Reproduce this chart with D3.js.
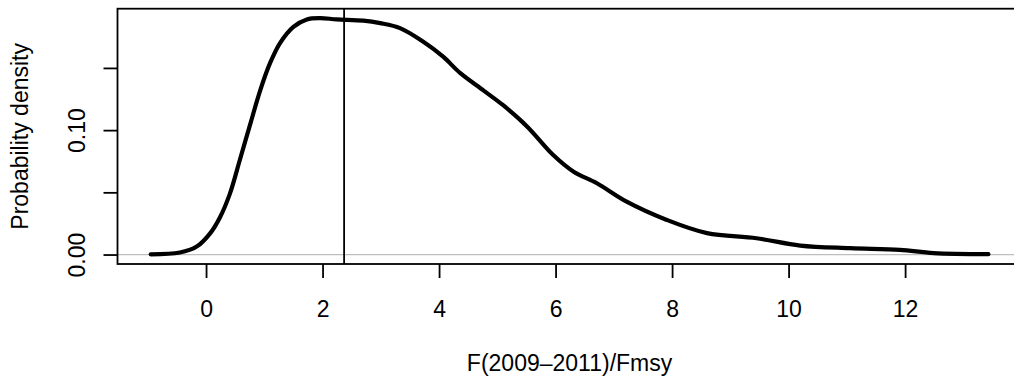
<!DOCTYPE html>
<html>
<head>
<meta charset="utf-8">
<script src="https://cdn.jsdelivr.net/npm/d3@7"></script>
<style>
  html, body { margin: 0; padding: 0; background: #ffffff; overflow: hidden; }
  svg { display: block; }
  text { font-family: "Liberation Sans", Arial, Helvetica, sans-serif; fill: #000; }
</style>
</head>
<body>
<svg id="chart" width="1014" height="378"></svg>
<script>
// ---- data ----
const densityX = [-0.95, -0.45, -0.16, 0.07, 0.24, 0.41, 0.58, 0.76, 0.93, 1.10, 1.27, 1.50, 1.73, 1.96, 2.24, 2.70, 2.99, 3.33, 3.73, 4.07, 4.36, 4.76, 5.10, 5.51, 5.96, 6.31, 6.71, 7.22, 7.91, 8.60, 9.45, 10.20, 11.06, 11.91, 12.49, 13.43];
const densityY = [0.0002, 0.0016, 0.0064, 0.017, 0.030, 0.049, 0.076, 0.105, 0.132, 0.154, 0.170, 0.183, 0.189, 0.190, 0.189, 0.188, 0.186, 0.182, 0.171, 0.159, 0.146, 0.132, 0.120, 0.103, 0.080, 0.0666, 0.0573, 0.0425, 0.0278, 0.0172, 0.0131, 0.0072, 0.0051, 0.0038, 0.0011, 0.0003];
const referenceX = 2.37;
const xTickValues = [0, 2, 4, 6, 8, 10, 12];
const xTickLabels = ["0", "2", "4", "6", "8", "10", "12"];
const yTickValues = [0, 0.05, 0.10, 0.15];
const yTickLabels = ["0.00", "", "0.10", ""];
const xTitle = "F(2009\u20132011)/Fmsy";
const yTitle = "Probability density";

(function () {
// ---- layout ----
const svg = d3.select("#chart");
const pLeft = 117.5, pRight = 1021.6, pTop = 8.7, pBottom = 264;
const fontSize = 23;

const x = d3.scaleLinear().domain([-1.52, 14.0]).range([pLeft, pRight]);
const y = d3.scaleLinear().domain([-0.0076, 0.1976]).range([pBottom, pTop]);

// clip for plot region
svg.append("defs").append("clipPath").attr("id", "plotclip")
  .append("rect").attr("x", pLeft).attr("y", pTop).attr("width", pRight - pLeft).attr("height", pBottom - pTop);

const plot = svg.append("g").attr("clip-path", "url(#plotclip)");

// zero reference line
plot.append("line")
  .attr("x1", pLeft).attr("x2", pRight)
  .attr("y1", y(0)).attr("y2", y(0))
  .attr("stroke", "#bebebe").attr("stroke-width", 1.2);

// density curve
const pts = densityX.map((d, i) => [d, densityY[i]]);
plot.append("path")
  .datum(pts)
  .attr("fill", "none")
  .attr("stroke", "#000")
  .attr("stroke-width", 4.2)
  .attr("stroke-linejoin", "round")
  .attr("stroke-linecap", "round")
  .attr("d", d3.line().x(d => x(d[0])).y(d => y(d[1])).curve(d3.curveCatmullRom.alpha(0.5)));

// vertical reference line
plot.append("line")
  .attr("x1", x(referenceX)).attr("x2", x(referenceX))
  .attr("y1", pTop).attr("y2", pBottom)
  .attr("stroke", "#000").attr("stroke-width", 1.8);

// box
svg.append("rect")
  .attr("x", pLeft).attr("y", pTop)
  .attr("width", pRight - pLeft).attr("height", pBottom - pTop)
  .attr("fill", "none").attr("stroke", "#000").attr("stroke-width", 1.8);

// x axis
const xAxis = svg.append("g")
  .attr("transform", `translate(0,${pBottom})`)
  .call(d3.axisBottom(x).tickValues(xTickValues).tickSize(14)
        .tickFormat((d, i) => xTickLabels[i]));
xAxis.select(".domain").remove();
xAxis.selectAll(".tick line").attr("stroke", "#000").attr("stroke-width", 1.8);
xAxis.selectAll(".tick text")
  .attr("y", 52.7).attr("dy", null)
  .style("font-size", fontSize + "px")
  .style("font-family", "'Liberation Sans', Arial, sans-serif")
  .attr("fill", "#000");

// y axis
const yAxis = svg.append("g")
  .attr("transform", `translate(${pLeft},0)`)
  .call(d3.axisLeft(y).tickValues(yTickValues).tickSize(14)
        .tickFormat((d, i) => yTickLabels[i]));
yAxis.select(".domain").remove();
yAxis.selectAll(".tick line").attr("stroke", "#000").attr("stroke-width", 1.8);
yAxis.selectAll(".tick text")
  .attr("x", null).attr("dy", null).attr("y", null)
  .attr("text-anchor", "middle")
  .attr("transform", "translate(" + (85 - pLeft) + ",0) rotate(-90)")
  .style("font-size", fontSize + "px")
  .style("font-family", "'Liberation Sans', Arial, sans-serif")
  .attr("fill", "#000");

// axis titles
svg.append("text")
  .attr("x", (pLeft + pRight) / 2).attr("y", 370.5)
  .attr("text-anchor", "middle")
  .style("font-size", fontSize + "px")
  .text(xTitle);

svg.append("text")
  .attr("transform", `translate(28.3,${(pTop + pBottom) / 2}) rotate(-90)`)
  .attr("text-anchor", "middle")
  .style("font-size", fontSize + "px")
  .text(yTitle);
})();
</script>
</body>
</html>
